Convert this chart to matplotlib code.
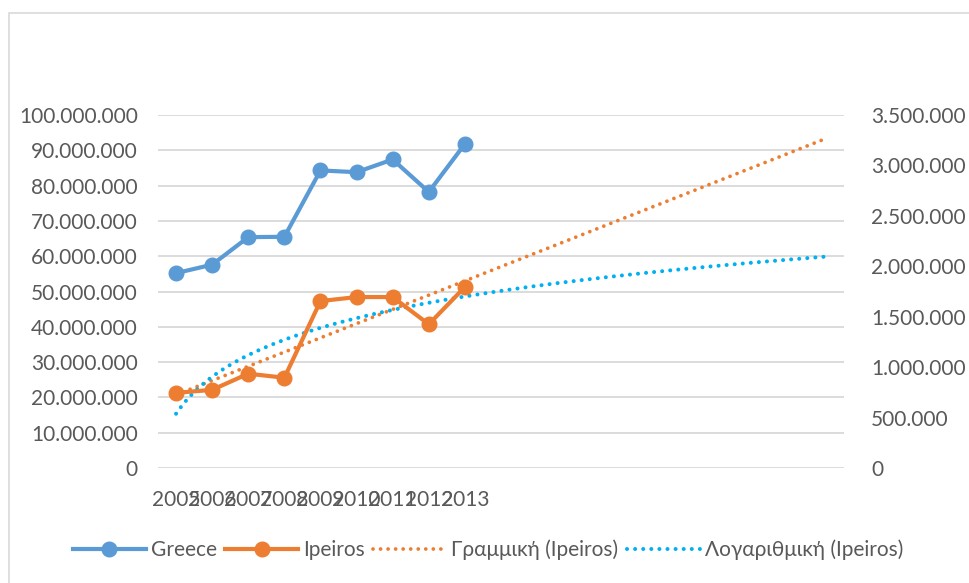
import numpy as np
import matplotlib
matplotlib.use("Agg")
import matplotlib.pyplot as plt
from matplotlib.ticker import FuncFormatter, MultipleLocator
from matplotlib.patches import Rectangle

plt.rcParams['font.family'] = ['Lato', 'DejaVu Sans']

# -----------------------------
# Data
# -----------------------------
years = ["2005", "2006", "2007", "2008", "2009", "2010", "2011", "2012", "2013"]
greece = [55.2e6, 57.6e6, 65.4e6, 65.5e6, 84.3e6, 83.8e6, 87.4e6, 78.2e6, 91.8e6]
ipeiros = [745e3, 775e3, 935e3, 895e3, 1655e3, 1695e3, 1695e3, 1425e3, 1795e3]
forecast_periods = 10
legend_labels = ["Greece", "Ipeiros", "Γραμμική (Ipeiros)", "Λογαριθμική (Ipeiros)"]

blue = "#5B9BD5"
orange = "#ED7D31"
cyan = "#00B0F0"
grid_col = "#D9D9D9"
text_col = "#595959"


def dotted(v, pos):
    return f"{int(round(v)):,}".replace(",", ".")


x = np.arange(1, len(years) + 1)
n_total = len(years) + forecast_periods

# trendlines fitted on Ipeiros, forecast forward
lin = np.polyfit(x, ipeiros, 1)
logfit = np.polyfit(np.log(x), ipeiros, 1)
xt = np.linspace(1, n_total, 400)

fig = plt.figure(figsize=(9.69, 5.83), dpi=100)
ax = fig.add_axes([158 / 969, 1 - 468 / 583, (844 - 158) / 969, (468 - 115) / 583])
ax2 = ax.twinx()

dot = (0, (0.01, 2.0))
ax.plot(x, greece, color=blue, lw=3, marker="o", ms=10.5, zorder=3)
ax2.plot(x, ipeiros, color=orange, lw=3, marker="o", ms=10.5, zorder=3)
ax2.plot(xt, np.polyval(lin, xt), color=orange, lw=2.7, ls=dot,
         dash_capstyle="round", zorder=2)
ax2.plot(xt, np.polyval(logfit, np.log(xt)), color=cyan, lw=2.9, ls=dot,
         dash_capstyle="round", zorder=2)

ax.set_xlim(0.5, n_total + 0.5)
ax.set_ylim(0, 100e6)
ax2.set_ylim(0, 3.5e6)
ax.yaxis.set_major_locator(MultipleLocator(10e6))
ax2.yaxis.set_major_locator(MultipleLocator(500e3))
ax.yaxis.set_major_formatter(FuncFormatter(dotted))
ax2.yaxis.set_major_formatter(FuncFormatter(dotted))

ax.set_xticks(x)
ax.set_xticklabels(years)
ax.grid(axis="y", color=grid_col, lw=1.3)
ax.set_axisbelow(True)

for a in (ax, ax2):
    for s in a.spines.values():
        s.set_visible(False)
    a.tick_params(length=0, labelsize=15, colors=text_col)
ax.tick_params(axis="y", pad=14.5)
ax2.tick_params(axis="y", pad=19.5)
ax.tick_params(axis="x", pad=16)

handles = ax.get_lines() + ax2.get_lines()
leg = fig.legend(handles, legend_labels, loc="center", bbox_to_anchor=(488 / 969, 1 - 550 / 583),
                 ncol=4, frameon=False, fontsize=15, handlelength=3.5,
                 columnspacing=0.4, handletextpad=0.25, labelcolor=text_col)

fig.patches.append(Rectangle((9 / 969, -0.05), 1.1, 1.05 - 13 / 583,
                             transform=fig.transFigure, fill=False,
                             ec=grid_col, lw=1.2))

fig.savefig("out.png", dpi=100)
